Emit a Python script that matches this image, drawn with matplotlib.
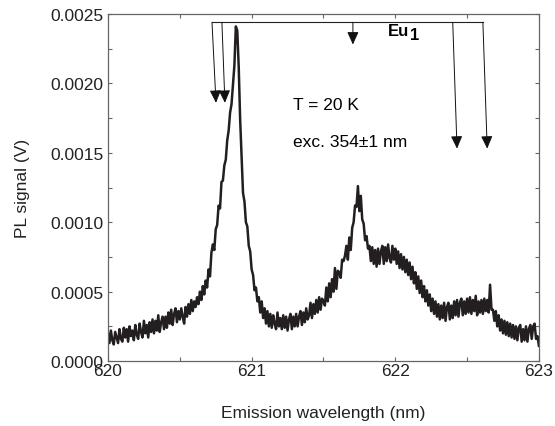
import numpy as np
import matplotlib
matplotlib.use("Agg")
import matplotlib.pyplot as plt
from matplotlib.ticker import MultipleLocator, FormatStrFormatter

plt.rcParams['font.family'] = ['Liberation Sans', 'DejaVu Sans']

# PL signal in units of 1e-4 V, sampled every 0.01 nm from 620.00 to 623.00
signal_e4 = [
    2.0, 1.3, 2.2, 1.5, 1.2, 2.1, 1.7, 1.3, 2.3, 1.6,
    1.4, 2.4, 1.7, 2.3, 1.4, 2.5, 1.8, 2.2, 1.5, 2.6,
    1.9, 1.6, 2.7, 2.1, 1.7, 2.9, 2.0, 2.6, 1.7, 2.8,
    2.1, 3.0, 2.0, 2.9, 2.2, 3.3, 2.1, 2.8, 3.2, 2.3,
    3.2, 2.4, 3.5, 2.7, 3.7, 2.6, 3.4, 3.8, 2.8, 3.6,
    3.0, 3.8, 3.2, 2.7, 3.9, 3.2, 4.1, 3.4, 4.4, 3.6,
    4.3, 3.9, 4.6, 4.1, 5.0, 4.4, 5.4, 4.8, 5.8, 5.3,
    6.6, 6.1, 7.8, 8.4, 8.0, 9.5, 9.8, 11.2, 11.0, 12.9,
    13.0, 14.1, 14.5, 15.9, 16.6, 17.9, 18.5, 19.9, 21.3, 24.1,
    23.8, 21.2, 17.4, 14.8, 12.1, 11.5, 10.0, 9.7, 8.3, 7.9,
    6.6, 6.2, 5.1, 5.3, 4.3, 4.6, 3.5, 4.3, 3.1, 3.8,
    2.7, 3.6, 2.5, 3.4, 2.4, 3.3, 2.7, 2.3, 3.5, 2.5,
    3.1, 2.3, 3.3, 2.4, 3.2, 2.2, 3.0, 3.4, 2.3, 3.2,
    2.5, 3.4, 2.5, 3.2, 3.6, 2.6, 3.5, 2.8, 3.8, 3.0,
    3.3, 4.2, 3.1, 4.1, 3.4, 4.4, 3.5, 4.6, 3.7, 4.5,
    4.3, 4.0, 5.3, 4.3, 5.6, 4.6, 5.9, 5.0, 6.7, 5.2,
    6.5, 6.4, 6.0, 7.3, 7.2, 7.6, 8.3, 7.3, 8.9, 8.0,
    9.6, 10.0, 11.2, 11.1, 12.6, 10.8, 11.9, 10.2, 9.9, 8.7,
    9.0, 8.1, 8.3, 7.2, 8.2, 7.0, 8.0, 6.8, 8.1, 7.0,
    7.9, 8.3, 7.0, 8.2, 7.2, 8.4, 7.4, 7.1, 8.3, 7.3,
    8.1, 7.0, 7.9, 6.7, 7.7, 6.6, 7.5, 6.4, 7.3, 6.2,
    7.1, 5.9, 6.8, 5.6, 6.4, 5.2, 6.1, 4.9, 5.8, 4.6,
    5.4, 4.3, 5.1, 4.0, 4.8, 3.6, 4.5, 3.4, 4.3, 3.2,
    4.1, 3.0, 4.0, 3.1, 4.2, 2.9, 3.9, 4.2, 3.0, 4.0,
    3.1, 4.3, 3.3, 4.4, 3.2, 4.2, 4.5, 3.3, 4.3, 3.4,
    4.5, 3.5, 4.6, 3.4, 4.4, 3.6, 4.7, 3.3, 4.3, 3.5,
    4.4, 3.4, 4.5, 3.6, 4.4, 3.5, 5.5, 3.7, 3.7, 2.9,
    3.6, 2.5, 3.3, 2.2, 3.0, 2.0, 2.9, 1.9, 2.8, 1.8,
    2.7, 1.7, 2.6, 1.6, 2.5, 1.5, 2.4, 2.6, 1.4, 2.3,
    1.5, 2.5, 1.4, 2.3, 2.6, 1.6, 2.5, 2.7, 1.6, 1.8,
    1.1,
]
wl_start, wl_stop = 620.0, 623.0
wavelength = np.linspace(wl_start, wl_stop, len(signal_e4))
signal = np.array(signal_e4) * 1e-4

# Eu1 transition markers
bracket_y = 0.00244
arrow_x0 = [620.724, 620.793, 621.705, 622.40, 622.61]
arrow_x1 = [620.752, 620.814, 621.705, 622.43, 622.64]
arrow_y1 = [0.00186, 0.00186, 0.00228, 0.00153, 0.00153]

fig = plt.figure(figsize=(5.55, 4.27), dpi=100)
ax = fig.add_axes([0.1946, 0.152, 0.7764, 0.813])

ax.plot(wavelength, signal, color='#231f20', lw=1.8)

ax.plot([arrow_x0[0], arrow_x0[-1]], [bracket_y, bracket_y], color='#222222', lw=0.8)
for x0, x1, y1 in zip(arrow_x0, arrow_x1, arrow_y1):
    ax.annotate('', xy=(x1, y1), xytext=(x0, bracket_y),
                arrowprops=dict(arrowstyle='-|>,head_length=0.55,head_width=0.25',
                                color='#111111', lw=0.7, shrinkA=0, shrinkB=0,
                                mutation_scale=14))

ax.text(621.95, 0.00235, 'Eu', fontsize=12, fontweight='bold', ha='left', va='baseline')
ax.text(622.105, 0.00232, '1', fontsize=12, fontweight='bold', ha='left', va='baseline')
ax.text(621.29, 0.00185, 'T = 20 K', fontsize=12.5, ha='left', va='center')
ax.text(621.29, 0.00158, 'exc. 354\u00b11 nm', fontsize=12.5, ha='left', va='center')

ax.set_xlim(620, 623)
ax.set_ylim(0, 0.0025)
ax.xaxis.set_major_locator(MultipleLocator(1))
ax.xaxis.set_minor_locator(MultipleLocator(0.5))
ax.yaxis.set_major_locator(MultipleLocator(0.0005))
ax.yaxis.set_minor_locator(MultipleLocator(0.00025))
ax.yaxis.set_major_formatter(FormatStrFormatter('%.4f'))
ax.xaxis.set_major_formatter(FormatStrFormatter('%d'))

for s in ax.spines.values():
    s.set_color('#666666')
    s.set_linewidth(0.9)
ax.tick_params(which='both', direction='in', top=True, right=True,
               color='#666666', width=0.8, length=2.8, labelsize=12.5,
               labelcolor='#222222')
ax.tick_params(axis='x', pad=1.5)
ax.tick_params(axis='y', pad=3)

ax.set_xlabel('Emission wavelength (nm)', fontsize=12.5, color='#222222', labelpad=19)
ax.set_ylabel('PL signal (V)', fontsize=12.5, color='#222222', labelpad=15)

fig.savefig('out.png', dpi=100)
